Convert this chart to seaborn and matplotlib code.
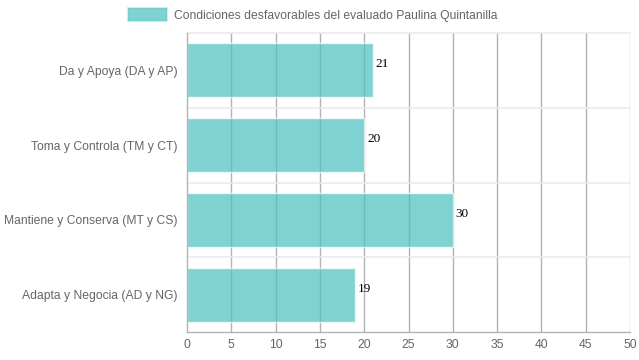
import matplotlib
matplotlib.use('Agg')
import matplotlib.pyplot as plt
from matplotlib.patches import Patch
import seaborn as sns
import pandas as pd

categorias = ['Da y Apoya (DA y AP)', 'Toma y Controla (TM y CT)',
              'Mantiene y Conserva (MT y CS)', 'Adapta y Negocia (AD y NG)']
valores = [21, 20, 30, 19]
serie = 'Condiciones desfavorables del evaluado Paulina Quintanilla'
x_ticks = [0, 5, 10, 15, 20, 25, 30, 35, 40, 45, 50]

df = pd.DataFrame({'categoria': categorias, 'valor': valores})

sns.set_style('white')
plt.rcParams['font.family'] = ['Liberation Sans', 'DejaVu Sans']

fig = plt.figure(figsize=(6.39, 3.6), dpi=100)
ax = fig.add_axes([187 / 639, 1 - 332 / 360, 443 / 639, 299 / 360])

# vertical grid under the bars (bars are translucent like chart.js)
for t in x_ticks[1:]:
    ax.axvline(t, color='#b3b3b3', lw=1, zorder=0)

teal = (75 / 255, 192 / 255, 192 / 255)
sns.barplot(data=df, x='valor', y='categoria', orient='h', width=0.72,
            color=teal, alpha=0.7, saturation=1, ax=ax, zorder=2)

# light horizontal separators between categories
for y in [-0.5, 0.5, 1.5, 2.5]:
    ax.axhline(y, color='#ebebeb', lw=1.2, zorder=1, clip_on=False)

ax.set_xlim(0, 50)
ax.set_ylim(3.5, -0.5)
ax.set_xticks(x_ticks)
ax.set_xlabel('')
ax.set_ylabel('')

for s in ['top', 'right']:
    ax.spines[s].set_visible(False)
for s in ['left', 'bottom']:
    ax.spines[s].set_color('#b3b3b3')
    ax.spines[s].set_linewidth(1)

ax.tick_params(axis='both', colors='#666666', labelsize=8.7, length=0)
ax.tick_params(axis='y', pad=6.5)
ax.tick_params(axis='x', pad=5)

for i, v in enumerate(valores):
    ax.annotate(str(v), (v, i), xytext=(2, 0), textcoords='offset points',
                ha='left', va='bottom', fontsize=9.5, color='black',
                family='Liberation Serif')

handle = Patch(facecolor=(*teal, 0.7), edgecolor=(*teal, 0.25), linewidth=1.5)
leg = fig.legend([handle], [serie], loc='center',
                 bbox_to_anchor=(0.49, 1 - 15 / 360), frameon=False,
                 fontsize=8.7, handlelength=3.2, handleheight=1.3, handletextpad=0.6)
for txt in leg.get_texts():
    txt.set_color('#666666')

fig.savefig('out.png', dpi=100)
